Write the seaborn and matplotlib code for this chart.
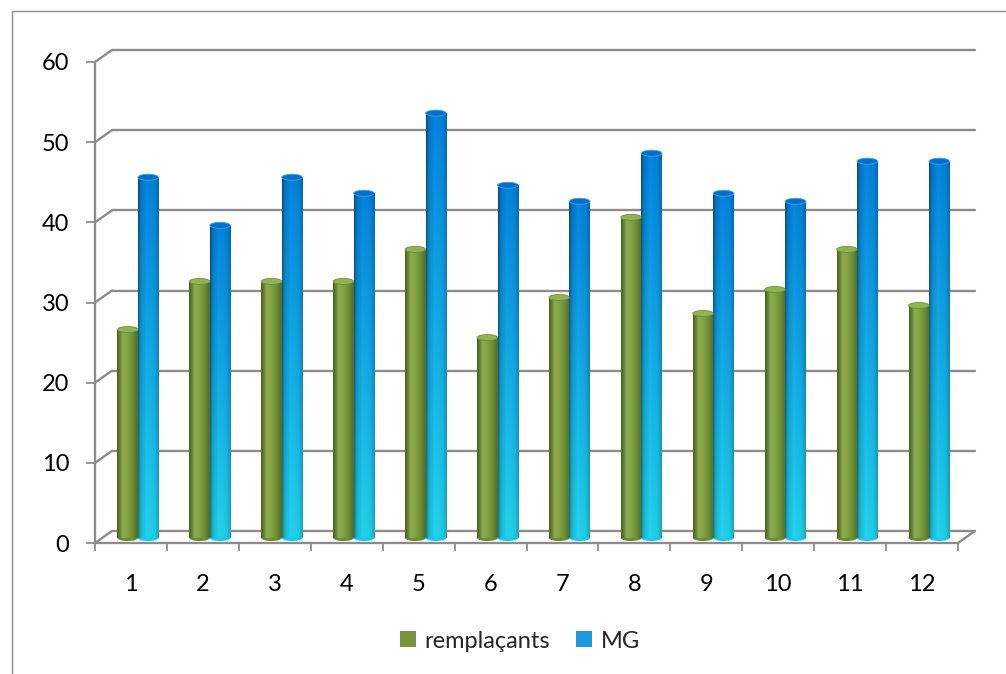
import numpy as np
import pandas as pd
import matplotlib
matplotlib.use("Agg")
import matplotlib.pyplot as plt
import matplotlib.transforms as mtransforms
from matplotlib.patches import Ellipse, Patch
from matplotlib.lines import Line2D
import seaborn as sns

# ---- data ----
categories = [str(i) for i in range(1, 13)]
remplacants = [26, 32, 32, 32, 36, 25, 30, 40, 28, 31, 36, 29]
mg = [45, 39, 45, 43, 53, 44, 42, 48, 43, 42, 47, 47]
series_names = ["remplaçants", "MG"]
y_ticks = [0, 10, 20, 30, 40, 50, 60]

df = pd.DataFrame({
    "cat": categories * 2,
    "val": remplacants + mg,
    "serie": [series_names[0]] * len(categories) + [series_names[1]] * len(categories),
})

sns.set_theme(style="white")
plt.rcParams["font.family"] = ["Lato", "DejaVu Sans"]

W, H = 1006, 674
fig = plt.figure(figsize=(W / 100, H / 100), dpi=100)
ax = fig.add_axes([95 / W, 1 - 543 / H, (958 - 95) / W, (543 - 62) / H])

green = "#77933c"
blue = "#1a9be0"
sns.barplot(data=df, x="cat", y="val", hue="serie", order=categories,
            hue_order=series_names, palette=[green, blue], width=0.57,
            saturation=1, legend=False, ax=ax, errorbar=None)

grid_col = "#8c8c8c"
# 3D offset of bars (mid depth) and back wall
bar_off = ax.transData + mtransforms.ScaledTranslation(7 / 100, 5 / 100, fig.dpi_scale_trans)
wall_dx, wall_dy = 17, 12

def green_img(h=64, w=64):
    xs = np.linspace(0, 1, w)
    stops = [0.0, 0.3, 0.65, 1.0]
    cols = np.array([[0x48, 0x60, 0x1e], [0x8f, 0xae, 0x4f], [0x78, 0x98, 0x3a], [0x50, 0x6c, 0x26]]) / 255
    row = np.stack([np.interp(xs, stops, cols[:, k]) for k in range(3)], axis=-1)
    return np.repeat(row[None, :, :], h, axis=0)

def blue_img(h=128, w=64):
    xs = np.linspace(0, 1, w)
    shade = np.interp(xs, [0.0, 0.12, 0.4, 0.8, 1.0], [0.55, 0.85, 1.0, 0.95, 0.78])
    ys = np.linspace(0, 1, h)[:, None]  # 0 = top
    top = np.array([0x05, 0x84, 0xe0]) / 255
    bot = np.array([0x22, 0xd4, 0xee]) / 255
    vert = top[None, None, :] * (1 - ys[..., None]) + bot[None, None, :] * ys[..., None]
    img = vert * shade[None, :, None]
    return np.clip(img, 0, 1)

patches = list(ax.patches)
n = len(categories)
cap_h = 0.75
for i, p in enumerate(patches):
    is_green = i < n
    p.set_transform(bar_off)
    p.set_edgecolor("none")
    x0, y0 = p.get_x(), p.get_y()
    w, h = p.get_width(), p.get_height()
    img = green_img() if is_green else blue_img()
    im = ax.imshow(img, extent=[x0, x0 + w, y0, y0 + h], aspect="auto",
                   transform=bar_off, zorder=p.get_zorder() + 0.1, interpolation="bilinear")
    im.set_clip_path(p)
    # bottom rounded end
    bcol = "#6a8a34" if is_green else "#1cc6e6"
    ax.add_patch(Ellipse((x0 + w / 2, y0), w, cap_h, transform=bar_off,
                         facecolor=bcol, edgecolor="none", zorder=p.get_zorder() + 0.05))
    # top cap
    if is_green:
        ax.add_patch(Ellipse((x0 + w / 2, y0 + h), w, cap_h, transform=bar_off,
                             facecolor="#92b256", edgecolor="#6f8f33", lw=0.6,
                             zorder=p.get_zorder() + 0.2))
    else:
        ax.add_patch(Ellipse((x0 + w / 2, y0 + h), w, cap_h, transform=bar_off,
                             facecolor="#0670c8", edgecolor="#3aa0e8", lw=0.6,
                             zorder=p.get_zorder() + 0.2))

ax.set_xlim(-0.5, n - 0.5)
ax.set_ylim(0, 60)
ax.set_xlabel("")
ax.set_ylabel("")

# back wall gridlines
wall_off = mtransforms.ScaledTranslation(wall_dx / 100, wall_dy / 100, fig.dpi_scale_trans)
blend = mtransforms.blended_transform_factory(ax.transAxes, ax.transData)
for v in y_ticks:
    ax.add_line(Line2D([0, 1], [v, v], transform=blend + wall_off, color=grid_col,
                       lw=1.7, zorder=0.5, clip_on=False))
    ax.annotate("", xy=(0, v), xycoords=("axes fraction", "data"),
                xytext=(wall_dx, wall_dy), textcoords="offset pixels",
                arrowprops=dict(arrowstyle="-", color=grid_col, lw=1.7,
                                shrinkA=0, shrinkB=0), zorder=0.5)
# right floor edge
ax.annotate("", xy=(1, 0), xycoords=("axes fraction", "data"),
            xytext=(wall_dx, wall_dy), textcoords="offset pixels",
            arrowprops=dict(arrowstyle="-", color=grid_col, lw=1.7,
                            shrinkA=0, shrinkB=0), zorder=0.5)

for s in ["top", "right"]:
    ax.spines[s].set_visible(False)
for s in ["left", "bottom"]:
    ax.spines[s].set_color(grid_col)
    ax.spines[s].set_linewidth(1.7)
    ax.spines[s].set_zorder(0.6)

fs = 17
ax.set_yticks(y_ticks)
ax.set_yticklabels([str(v) for v in y_ticks])
ax.set_xticks(range(n))
ax.set_xticklabels(categories)
ax.set_xticks(np.arange(-0.5, n, 1.0), minor=True)
ax.tick_params(axis="y", which="major", left=True, length=6.5, width=1.3,
               color=grid_col, pad=12, labelsize=fs, labelcolor="#000000")
ax.tick_params(axis="x", which="major", bottom=False, length=0, pad=22,
               labelsize=fs, labelcolor="#000000")
ax.tick_params(axis="x", which="minor", bottom=True, length=6, width=1.3,
               color=grid_col, direction="out")

handles = [Patch(facecolor=green, edgecolor="none"), Patch(facecolor=blue, edgecolor="none")]
fig.legend(handles, series_names, loc="center", bbox_to_anchor=(520 / W, 1 - 641 / H),
           ncol=2, frameon=False, fontsize=fs, handlelength=0.68, handleheight=0.68,
           handletextpad=0.35, columnspacing=1.1)

# outer chart border
fig.add_artist(Line2D([12 / W, 12 / W], [0, 1 - 11 / H], transform=fig.transFigure,
                      color="#8c8c8c", lw=1.0))
fig.add_artist(Line2D([12 / W, 1], [1 - 11 / H, 1 - 11 / H], transform=fig.transFigure,
                      color="#8c8c8c", lw=1.0))

fig.savefig("out.png", dpi=100)
